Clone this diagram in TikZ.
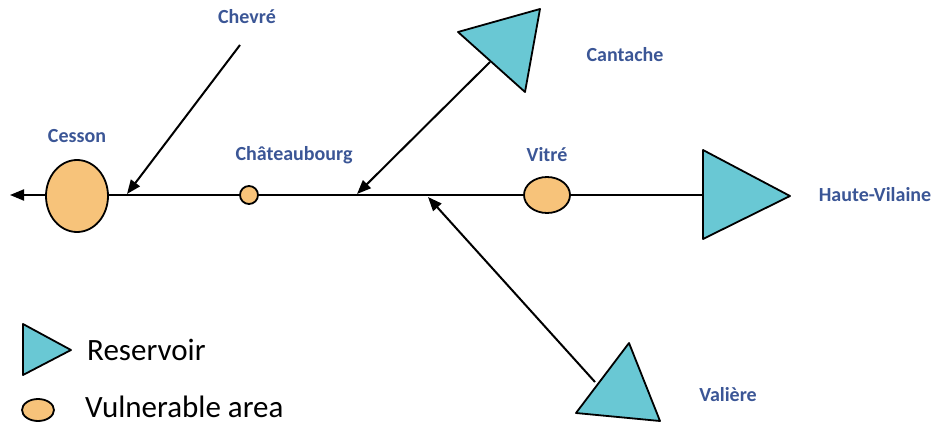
\documentclass[tikz,border=0pt]{standalone}
\usepackage{fontspec}
\setmainfont{Carlito}
\usetikzlibrary{arrows.meta,shapes.geometric}
\definecolor{lblue}{RGB}{59,86,150}
\definecolor{resfill}{RGB}{105,200,212}
\definecolor{vulfill}{RGB}{247,195,122}
\tikzset{
  lbl/.style={font=\fontsize{20}{24}\selectfont\bfseries, text=lblue, inner sep=0pt},
  legtxt/.style={font=\fontsize{31}{36}\selectfont, inner sep=0pt, anchor=base west},
  vul/.style={draw=black, line width=1.8pt, fill=vulfill, shape=ellipse, inner sep=0pt},
  res/.style={draw=black, line width=1.8pt, fill=resfill, line join=round},
  flow/.style={line width=2pt, -{Triangle[length=14pt,width=11pt]}},
}
\begin{document}
\begin{tikzpicture}[x=1pt,y=-1pt]
\useasboundingbox (0,0) rectangle (933,425);
% coordinates
\coordinate (hvW) at (703,195);
\coordinate (tip) at (10,195);
\coordinate (chS) at (240,45);
\coordinate (chE) at (127,194);
\coordinate (caS) at (490,62);
\coordinate (caE) at (357,194);
\coordinate (vaS) at (595,382);
\coordinate (vaE) at (428,197);
% main line
\draw[flow] (hvW) -- (tip);
% tributaries
\draw[flow] (chS) -- (chE);
\draw[flow] (caS) -- (caE);
\draw[flow] (vaS) -- (vaE);
% vulnerable areas
\node[vul, minimum width=62pt, minimum height=72pt] (cesson) at (77,196) {};
\node[vul, minimum width=18pt, minimum height=18pt] (chateau) at (249,195) {};
\node[vul, minimum width=46pt, minimum height=36pt] (vitre) at (547,195) {};
% reservoirs
\draw[res] (458,32) -- (540,9) -- (525,92) -- cycle;
\draw[res] (703,150) -- (790,196) -- (703,239) -- cycle;
\draw[res] (576,413) -- (629,343) -- (660,421) -- cycle;
% labels
\node[lbl] (lchevre) at (247,17) {Chevré};
\node[lbl] (lcesson) at (77,136) {Cesson};
\node[lbl] (lchat) at (294,155) {Châteaubourg};
\node[lbl] (lcant) at (625,55) {Cantache};
\node[lbl] (lvitre) at (547,155) {Vitré};
\node[lbl] (lhv) at (875,195) {Haute-Vilaine};
\node[lbl] (lval) at (728,395) {Valière};
% legend
\draw[res] (23,324) -- (71,350) -- (23,375) -- cycle;
\node[vul, minimum width=32pt, minimum height=22pt] (legvul) at (38,410) {};
\node[legtxt] (lres) at (87,360) {Reservoir};
\node[legtxt] (lvul) at (85,417) {Vulnerable area};
\end{tikzpicture}
\end{document}
